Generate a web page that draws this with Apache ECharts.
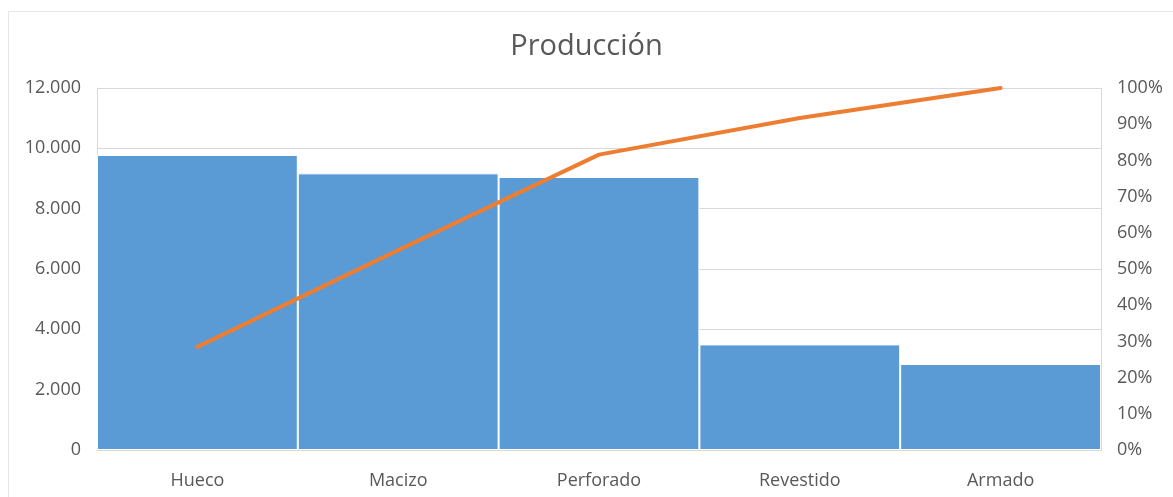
<!DOCTYPE html>
<html>
<head>
<meta charset="utf-8">
<script src="https://cdn.jsdelivr.net/npm/echarts@6/dist/echarts.min.js"></script>
<style>
html,body{margin:0;padding:0;background:#fff;}
#frame{position:absolute;left:8px;top:11px;width:1200px;height:520px;border:1px solid #e6e6e6;box-sizing:border-box;}
#chart{position:absolute;left:0;top:0;width:1173px;height:497px;}
</style>
</head>
<body>
<div id="frame"></div>
<div id="chart"></div>
<script>
const categories = ['Hueco', 'Macizo', 'Perforado', 'Revestido', 'Armado'];
const production = [9780, 9170, 9050, 3500, 2850];
const cumulativePct = [28.5, 55.2, 81.6, 91.7, 100];
const leftTicks = [0, 2000, 4000, 6000, 8000, 10000, 12000];

function fmtThousands(v) {
  return String(v).replace(/\B(?=(\d{3})+(?!\d))/g, '.');
}

const chart = echarts.init(document.getElementById('chart'), null, {renderer: 'canvas'});
const font = '"Open Sans", "Noto Sans", sans-serif';
chart.setOption({
  animation: false,
  backgroundColor: 'transparent',
  title: {
    text: 'Producción',
    left: 'center',
    top: 27,
    textStyle: {fontFamily: font, fontSize: 29, fontWeight: 'normal', color: '#595959'}
  },
  grid: {left: 97, right: 72, top: 88, bottom: 47},
  xAxis: {
    type: 'category',
    data: categories,
    axisLine: {show: true, lineStyle: {color: '#d9d9d9'}},
    axisTick: {show: false},
    axisLabel: {fontFamily: font, fontSize: 18, color: '#595959', margin: 22}
  },
  yAxis: [
    {
      type: 'value',
      min: leftTicks[0],
      max: leftTicks[leftTicks.length - 1],
      interval: 2000,
      axisLine: {show: true, lineStyle: {color: '#d9d9d9'}},
      axisTick: {show: false},
      splitLine: {show: true, lineStyle: {color: '#d9d9d9'}},
      axisLabel: {fontFamily: font, fontSize: 18, color: '#595959', margin: 16, formatter: fmtThousands}
    },
    {
      type: 'value',
      min: 0,
      max: 100,
      interval: 10,
      axisLine: {show: true, lineStyle: {color: '#d9d9d9'}},
      axisTick: {show: false},
      splitLine: {show: false},
      axisLabel: {fontFamily: font, fontSize: 18, color: '#595959', margin: 16, formatter: '{value}%'}
    }
  ],
  series: [
    {
      type: 'bar',
      data: production,
      barCategoryGap: '0%',
      itemStyle: {color: '#5B9BD5', borderColor: '#ffffff', borderWidth: 1},
      z: 2
    },
    {
      type: 'line',
      yAxisIndex: 1,
      data: cumulativePct,
      symbol: 'none',
      lineStyle: {color: '#ED7D31', width: 4, cap: 'round', join: 'round'},
      z: 3
    }
  ]
});
</script>
</body>
</html>
